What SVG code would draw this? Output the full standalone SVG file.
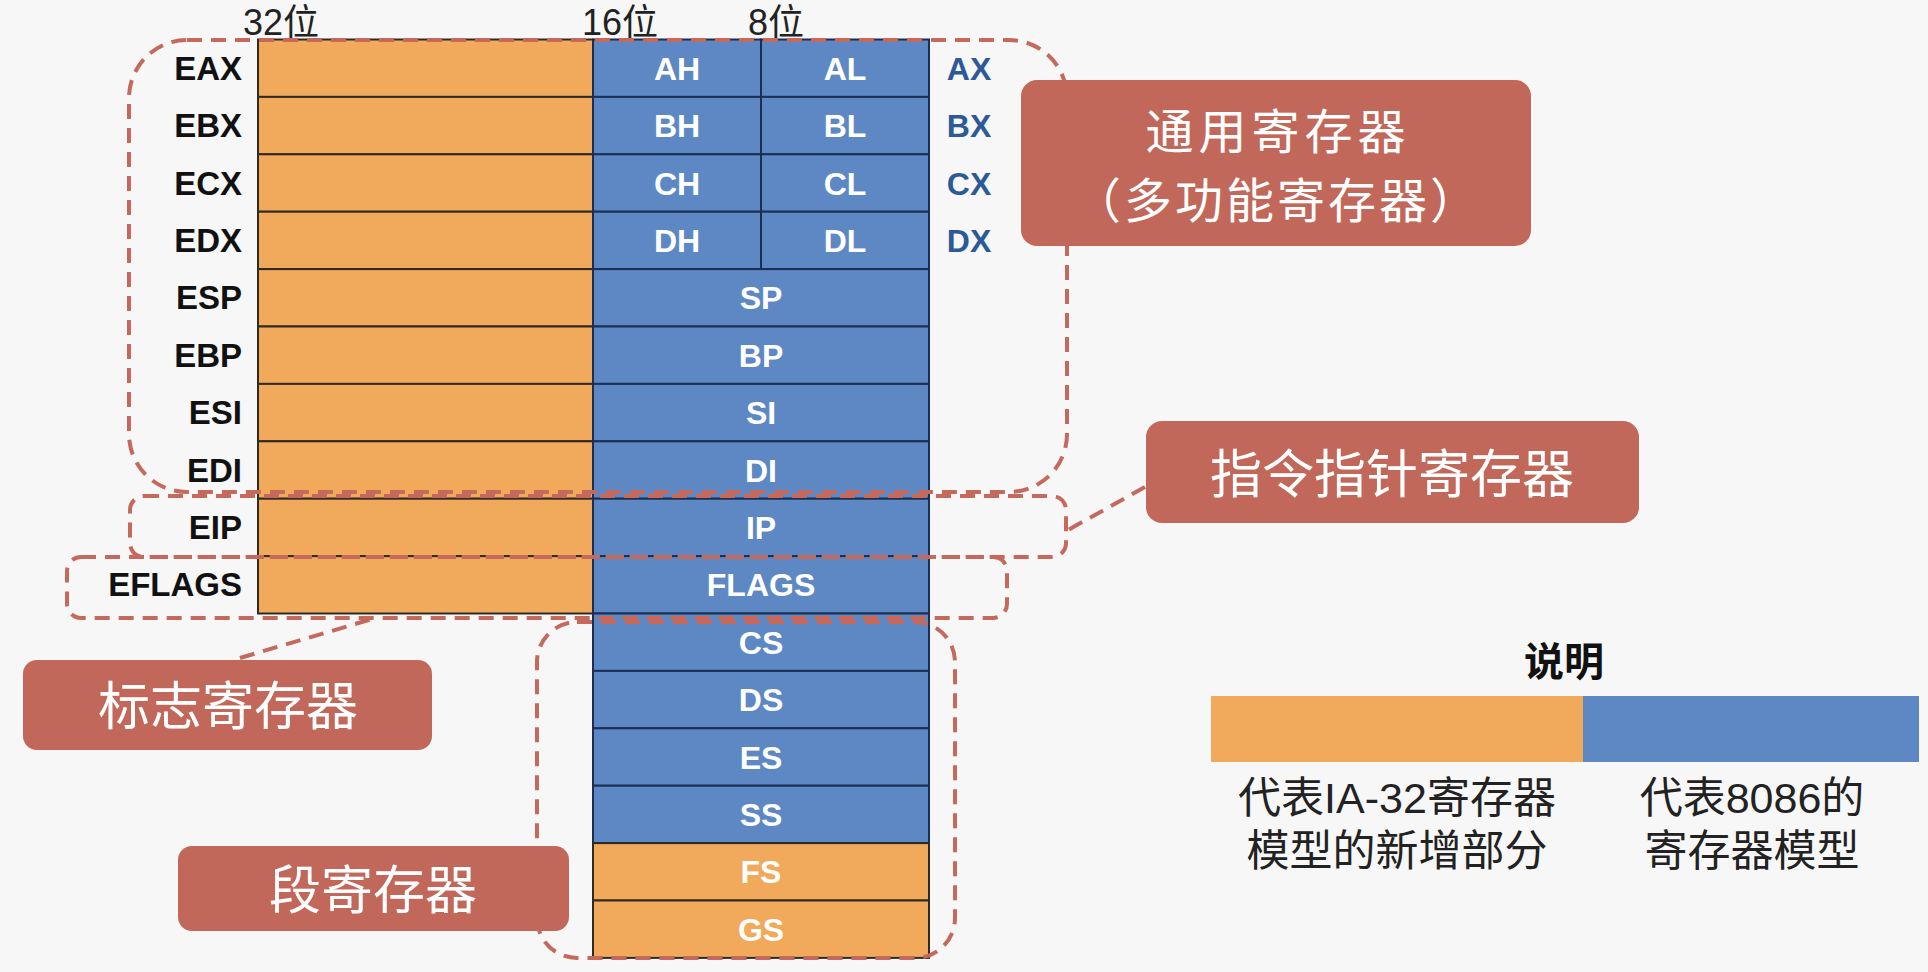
<svg xmlns="http://www.w3.org/2000/svg" width="1928" height="972" viewBox="0 0 1928 972">
<style>
.or{fill:#F1A95B;stroke:#2E2A25;stroke-width:2}
.bl{fill:#5D88C4;stroke:#1C2F52;stroke-width:2}
.lbl{font-family:"Liberation Sans",Arial,sans-serif;font-weight:bold;font-size:33px;fill:#111;text-anchor:end}
.in{font-family:"Liberation Sans",Arial,sans-serif;font-weight:bold;font-size:32px;fill:#fff;text-anchor:middle}
.rx{font-family:"Liberation Sans",Arial,sans-serif;font-weight:bold;font-size:32px;fill:#2C5A96;text-anchor:middle}
.bit{font-family:"Liberation Sans","Noto Sans CJK SC",sans-serif;font-size:36px;fill:#222}
.dash{fill:none;stroke:#C6695D;stroke-width:4;stroke-dasharray:15 9}
.box{fill:#C2685A}
.bt{font-family:"Noto Sans CJK SC","Liberation Sans",sans-serif;font-size:52px;fill:#fff;text-anchor:middle}
.bt2{font-family:"Noto Sans CJK SC","Liberation Sans",sans-serif;font-size:48px;fill:#fff;text-anchor:middle}
.lg{font-family:"Liberation Sans","Noto Sans CJK SC",sans-serif;font-size:43px;fill:#222;text-anchor:middle}
</style>
<rect x="0" y="0" width="1928" height="972" fill="#F7F7F7"/>

<g id="bit-labels">
<text class="bit" x="243" y="35">32位</text>
<text class="bit" x="582" y="35">16位</text>
<text class="bit" x="748" y="35">8位</text>
</g>

<g id="table">
<g id="EAX"><rect class="or" x="258" y="39.5" width="335" height="57.4"/><rect class="bl" x="593" y="39.5" width="168" height="57.4"/><rect class="bl" x="761" y="39.5" width="168" height="57.4"/><text class="lbl" x="242" y="79.7">EAX</text><text class="in" x="677" y="79.7">AH</text><text class="in" x="845" y="79.7">AL</text><text class="rx" x="969" y="79.7">AX</text></g>
<g id="EBX"><rect class="or" x="258" y="96.9" width="335" height="57.4"/><rect class="bl" x="593" y="96.9" width="168" height="57.4"/><rect class="bl" x="761" y="96.9" width="168" height="57.4"/><text class="lbl" x="242" y="137.1">EBX</text><text class="in" x="677" y="137.1">BH</text><text class="in" x="845" y="137.1">BL</text><text class="rx" x="969" y="137.1">BX</text></g>
<g id="ECX"><rect class="or" x="258" y="154.3" width="335" height="57.4"/><rect class="bl" x="593" y="154.3" width="168" height="57.4"/><rect class="bl" x="761" y="154.3" width="168" height="57.4"/><text class="lbl" x="242" y="194.5">ECX</text><text class="in" x="677" y="194.5">CH</text><text class="in" x="845" y="194.5">CL</text><text class="rx" x="969" y="194.5">CX</text></g>
<g id="EDX"><rect class="or" x="258" y="211.7" width="335" height="57.4"/><rect class="bl" x="593" y="211.7" width="168" height="57.4"/><rect class="bl" x="761" y="211.7" width="168" height="57.4"/><text class="lbl" x="242" y="251.9">EDX</text><text class="in" x="677" y="251.9">DH</text><text class="in" x="845" y="251.9">DL</text><text class="rx" x="969" y="251.9">DX</text></g>
<g id="ESP"><rect class="or" x="258" y="269.1" width="335" height="57.4"/><rect class="bl" x="593" y="269.1" width="336" height="57.4"/><text class="lbl" x="242" y="309.3">ESP</text><text class="in" x="761" y="309.3">SP</text></g>
<g id="EBP"><rect class="or" x="258" y="326.5" width="335" height="57.4"/><rect class="bl" x="593" y="326.5" width="336" height="57.4"/><text class="lbl" x="242" y="366.7">EBP</text><text class="in" x="761" y="366.7">BP</text></g>
<g id="ESI"><rect class="or" x="258" y="383.9" width="335" height="57.4"/><rect class="bl" x="593" y="383.9" width="336" height="57.4"/><text class="lbl" x="242" y="424.1">ESI</text><text class="in" x="761" y="424.1">SI</text></g>
<g id="EDI"><rect class="or" x="258" y="441.3" width="335" height="57.4"/><rect class="bl" x="593" y="441.3" width="336" height="57.4"/><text class="lbl" x="242" y="481.5">EDI</text><text class="in" x="761" y="481.5">DI</text></g>
<g id="EIP"><rect class="or" x="258" y="498.7" width="335" height="57.4"/><rect class="bl" x="593" y="498.7" width="336" height="57.4"/><text class="lbl" x="242" y="538.9">EIP</text><text class="in" x="761" y="538.9">IP</text></g>
<g id="EFLAGS"><rect class="or" x="258" y="556.1" width="335" height="57.4"/><rect class="bl" x="593" y="556.1" width="336" height="57.4"/><text class="lbl" x="242" y="596.3">EFLAGS</text><text class="in" x="761" y="596.3">FLAGS</text></g>
<g id="CS"><rect class="bl" x="593" y="613.5" width="336" height="57.4"/><text class="in" x="761" y="653.7">CS</text></g>
<g id="DS"><rect class="bl" x="593" y="670.9" width="336" height="57.4"/><text class="in" x="761" y="711.1">DS</text></g>
<g id="ES"><rect class="bl" x="593" y="728.3" width="336" height="57.4"/><text class="in" x="761" y="768.5">ES</text></g>
<g id="SS"><rect class="bl" x="593" y="785.7" width="336" height="57.4"/><text class="in" x="761" y="825.9">SS</text></g>
<g id="FS"><rect class="or" x="593" y="843.1" width="336" height="57.4"/><text class="in" x="761" y="883.3">FS</text></g>
<g id="GS"><rect class="or" x="593" y="900.5" width="336" height="57.4"/><text class="in" x="761" y="940.7">GS</text></g>
</g>

<g id="groups">
<rect class="dash" x="129" y="40" width="938" height="452" rx="58"/>
<rect class="dash" x="130" y="496" width="936" height="61" rx="14"/>
<rect class="dash" x="67" y="557" width="940" height="61" rx="14"/>
<rect class="dash" x="537" y="622" width="418" height="336" rx="40"/>
</g>

<g id="connectors">
<line class="dash" x1="1145" y1="487" x2="1068" y2="530"/>
<line class="dash" x1="240" y1="658" x2="372" y2="619"/>
</g>

<g id="box-general">
<rect class="box" x="1021" y="80" width="510" height="166" rx="16"/>
<text class="bt2" x="1278" y="149" letter-spacing="5">通用寄存器</text>
<text class="bt2" x="1277" y="218" letter-spacing="3">（多功能寄存器）</text>
</g>
<g id="box-ip">
<rect class="box" x="1146" y="421" width="493" height="102" rx="16"/>
<text class="bt" x="1392" y="493">指令指针寄存器</text>
</g>
<g id="box-flags">
<rect class="box" x="23" y="660" width="409" height="90" rx="14"/>
<text class="bt" x="228" y="725">标志寄存器</text>
</g>
<g id="box-seg">
<rect class="box" x="178" y="846" width="391" height="85" rx="14"/>
<text class="bt" x="373" y="909">段寄存器</text>
</g>

<g id="legend">
<text x="1564" y="676" font-family="'Noto Sans CJK SC','Liberation Sans',sans-serif" font-weight="bold" font-size="40" fill="#111" text-anchor="middle">说明</text>
<rect x="1211" y="696" width="372" height="66" fill="#F1A95B"/>
<rect x="1583" y="696" width="336" height="66" fill="#5D88C4"/>
<text class="lg" x="1397" y="813">代表IA-32寄存器</text>
<text class="lg" x="1397" y="866">模型的新增部分</text>
<text class="lg" x="1752" y="813">代表8086的</text>
<text class="lg" x="1752" y="866">寄存器模型</text>
</g>
</svg>
